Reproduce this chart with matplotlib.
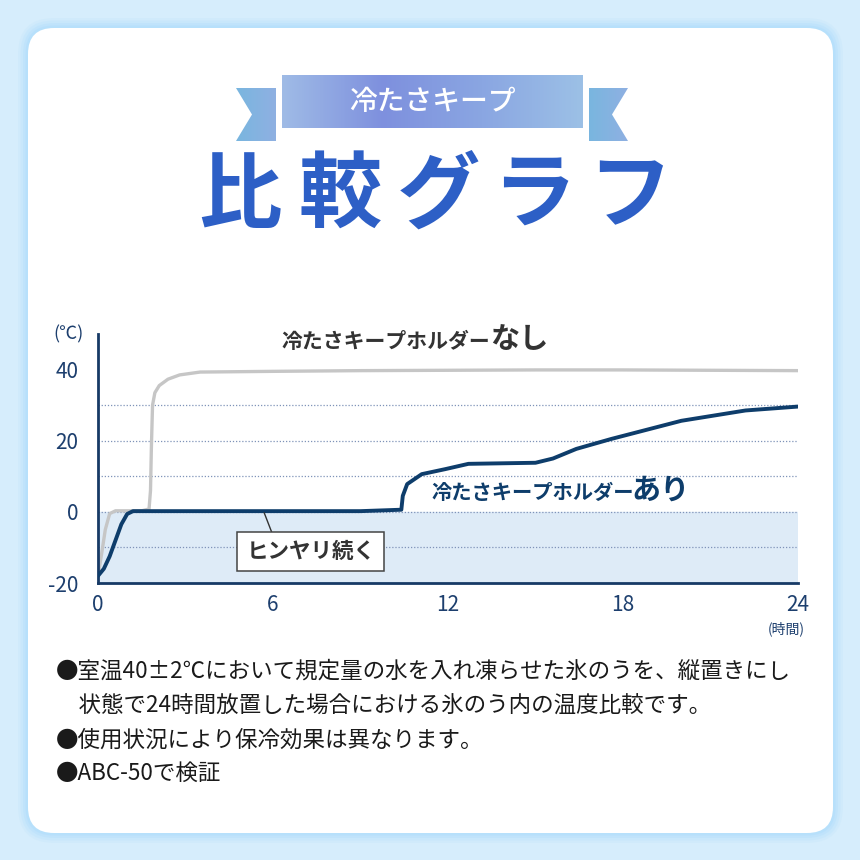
import numpy as np
import matplotlib
matplotlib.use("Agg")
import matplotlib.pyplot as plt
from matplotlib.patches import FancyBboxPatch, Polygon, Rectangle
from matplotlib.colors import LinearSegmentedColormap

plt.rcParams['font.family'] = ['Noto Sans CJK JP', 'DejaVu Sans']
plt.rcParams['axes.unicode_minus'] = False

# data
hours_without = [0, 0.12, 0.25, 0.4, 0.6, 1.0, 1.5, 1.75, 1.8, 1.83, 1.87, 1.95, 2.1, 2.4, 2.8, 3.5, 6, 9, 12, 15, 18, 21, 24]
temp_without = [-18, -12, -5, -0.5, 0.3, 0.3, 0.3, 0.8, 6, 18, 30, 33.5, 35.5, 37.3, 38.5, 39.3, 39.5, 39.7, 39.8, 39.9, 39.9, 39.8, 39.7]

hours_with = [0, 0.2, 0.4, 0.6, 0.8, 1.0, 1.2, 3, 6, 9, 10.4, 10.45, 10.6, 11.1, 11.9, 12.7, 15.0, 15.6, 16.4, 17.6, 20, 22.2, 24]
temp_with = [-18, -16, -12.5, -8, -3.5, -0.6, 0.2, 0.2, 0.2, 0.2, 0.6, 4.5, 7.8, 10.6, 12, 13.5, 13.8, 15, 17.7, 20.5, 25.6, 28.5, 29.6]

x_ticks = [0, 6, 12, 18, 24]
y_ticks = [-20, 0, 20, 40]
grid_levels = [-10, 0, 10, 20, 30]

notes = [
    "●室温40±2℃において規定量の水を入れ凍らせた氷のうを、縦置きにし",
    "　状態で24時間放置した場合における氷のう内の温度比較です。",
    "●使用状況により保冷効果は異なります。",
    "●ABC-50で検証",
]

navy = '#0e3d6b'
gray = '#c6c6c6'
tick_col = '#1d3f6e'

fig = plt.figure(figsize=(8.6, 8.6), dpi=100)

# background layer in pixel coordinates
bg = fig.add_axes([0, 0, 1, 1], zorder=0)
bg.axis('off')
bg.add_patch(Rectangle((0, 0), 860, 860, color='#d6edfc'))
for i, a in enumerate([0.12, 0.18, 0.25, 0.35]):
    g = 10 - i * 2.5
    bg.add_patch(FancyBboxPatch((28 - g, 28 - g), 805 + 2 * g, 805 + 2 * g,
                                boxstyle='round,pad=0,rounding_size=%d' % (26 + g),
                                fc='#a9dbfb', ec='none', alpha=a))
bg.add_patch(FancyBboxPatch((28, 28), 805, 805, boxstyle='round,pad=0,rounding_size=26',
                            fc='white', ec='none'))

# ribbon
grad = np.linspace(0, 1, 200).reshape(1, -1)
rib_cmap = LinearSegmentedColormap.from_list('rib', ['#9fbbe6', '#7e90de', '#8aa6e2', '#9cc0e6'])
tail_cmap = LinearSegmentedColormap.from_list('tail', ['#79b6df', '#8fb0e2'])
main = Rectangle((282, 75), 301, 53, fc='none', ec='none')
bg.add_patch(main)
im = bg.imshow(grad, cmap=rib_cmap, extent=(282, 583, 128, 75), aspect='auto', zorder=1)
im.set_clip_path(main)
lt = Polygon([(236, 88), (276, 88), (276, 141), (236, 141), (252, 114.5)], fc='none', ec='none')
rt = Polygon([(589, 88), (628, 88), (612, 114.5), (628, 141), (589, 141)], fc='none', ec='none')
for p, ext in [(lt, (236, 276, 141, 88)), (rt, (589, 628, 141, 88))]:
    bg.add_patch(p)
    t = bg.imshow(grad, cmap=tail_cmap, extent=ext, aspect='auto', zorder=1)
    t.set_clip_path(p)
bg.set_xlim(0, 860)
bg.set_ylim(860, 0)
bg.text(432, 102, '冷たさキープ', color='white', fontsize=20, fontweight='medium',
        ha='center', va='center', zorder=2)

# big title
for ch, cx in zip('比較グラフ', [240, 340, 438, 534, 630]):
    bg.text(cx, 197, ch, color='#2d5fc6', fontsize=60, fontweight='bold',
            ha='center', va='center')

# notes
for txt, y in zip(notes, [671, 705, 740, 773]):
    bg.text(56, y, txt, color='#1a1a1a', fontsize=16.2, ha='left', va='center')

# chart
ax = fig.add_axes([98 / 860, (860 - 583) / 860, 700 / 860, (583 - 334) / 860], zorder=1)
ax.patch.set_alpha(0)
ax.set_xlim(0, 24)
ax.set_ylim(-20, 50)
ax.axhspan(-20, 0, color='#deebf7', zorder=0)
for g in grid_levels:
    ax.axhline(g, color='#7f93b8', lw=0.9, ls=(0, (1, 1.5)), zorder=1)
ax.plot(hours_without, temp_without, color=gray, lw=2.4, zorder=2, solid_capstyle='round')
ax.plot(hours_with, temp_with, color=navy, lw=2.8, zorder=3, solid_capstyle='round')

for s in ['top', 'right']:
    ax.spines[s].set_visible(False)
for s in ['left', 'bottom']:
    ax.spines[s].set_color('#173a66')
    ax.spines[s].set_linewidth(2)
ax.set_xticks(x_ticks)
ax.set_yticks(y_ticks)
ax.tick_params(length=0, labelsize=15, colors=tick_col, pad=8)
ax.tick_params(axis='y', pad=14)

ax.text(-0.02, 1.0, '(℃)', transform=ax.transAxes, ha='right', va='center',
        fontsize=13, color=tick_col)
ax.text(23.6, -32.8, '(時間)', ha='center', va='center', fontsize=10, color=tick_col)

# annotations
ax.text(6.3, 46.1, '冷たさキープホルダー', color='#333333', fontsize=15, fontweight='bold',
        ha='left', va='baseline')
ax.text(13.45, 46.1, 'なし', color='#333333', fontsize=21, fontweight='bold',
        ha='left', va='baseline')
ax.text(11.45, 3.6, '冷たさキープホルダー', color=navy, fontsize=14.6, fontweight='bold',
        ha='left', va='baseline')
ax.text(18.3, 3.6, 'あり', color=navy, fontsize=21, fontweight='bold',
        ha='left', va='baseline')
ax.plot([5.7, 5.95], [-0.3, -5.6], color='#333333', lw=1, zorder=4)
ax.text(7.3, -11.2, 'ヒンヤリ続く', color='#333333', fontsize=15.5, fontweight='bold',
        ha='center', va='center', zorder=5,
        bbox=dict(boxstyle='square,pad=0.42', fc='white', ec='#444444', lw=1.1))

fig.savefig('out.png', dpi=100)
